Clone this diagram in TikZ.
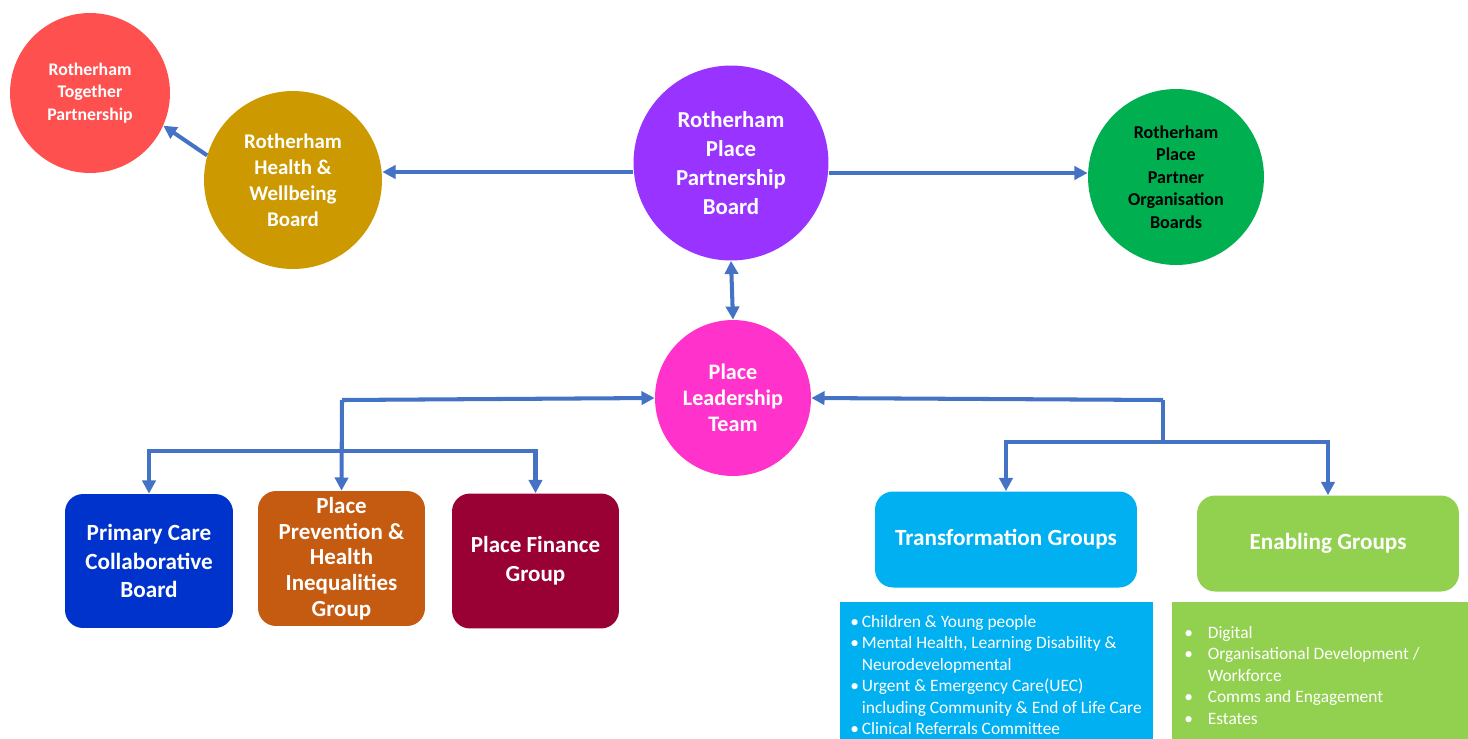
\documentclass[tikz,border=0pt]{standalone}
\usepackage{fontspec}
\setmainfont{Carlito}
\usetikzlibrary{arrows.meta}

\definecolor{linkblue}{HTML}{4472C4}
\definecolor{rtpred}{HTML}{FF5050}
\definecolor{hwbgold}{HTML}{CC9900}
\definecolor{boardpurple}{HTML}{9933FF}
\definecolor{partnergreen}{HTML}{00B050}
\definecolor{pltpink}{HTML}{FF33CC}
\definecolor{pcblue}{HTML}{0033CC}
\definecolor{prevorange}{HTML}{C55A11}
\definecolor{finred}{HTML}{990033}
\definecolor{tgcyan}{HTML}{00B0F0}
\definecolor{eglime}{HTML}{92D050}

\begin{document}
\begin{tikzpicture}
  [x=0.02cm,y=-0.02cm,>={Triangle[length=7.5pt,width=7.5pt]},
   every node/.style={text=white,align=center},
   hub/.style={circle,inner sep=0pt},
   group/.style={rectangle,rounded corners=0.36cm,inner sep=0pt},
   link/.style={draw=linkblue,line width=2.3pt},
   items/.style={anchor=north west,inner sep=0pt,align=left,
     font=\fontsize{9.9}{12.2}\selectfont}]
  \useasboundingbox (0,0) rectangle (1468,738);
  \clip (0,0) rectangle (1468,738);

  % top row of boards
  \node[hub,fill=rtpred,minimum size=3.2cm,
    font=\bfseries\fontsize{10.1}{12.8}\selectfont] (rtp) at (90,93)
    {Rotherham\\Together\\Partnership};
  \node[hub,fill=hwbgold,minimum size=3.56cm,
    font=\bfseries\fontsize{11.9}{14.8}\selectfont] (hwb) at (293,180)
    {Rotherham\\Health \&\\Wellbeing\\Board};
  \node[hub,fill=boardpurple,minimum size=3.9cm,
    font=\bfseries\fontsize{13}{16.4}\selectfont] (rppb) at (731,163)
    {Rotherham\\Place\\Partnership\\Board};
  \node[hub,fill=partnergreen,minimum size=3.52cm,text=black,
    font=\bfseries\fontsize{10.3}{12.8}\selectfont] (prb) at (1176,177)
    {Rotherham\\Place\\Partner\\Organisation\\Boards};
  \node[hub,fill=pltpink,minimum size=3.12cm,
    font=\bfseries\fontsize{12.6}{14.8}\selectfont] (plt) at (733,398)
    {Place\\Leadership\\Team};

  % groups
  \node[group,fill=pcblue,minimum width=3.36cm,minimum height=2.68cm,
    font=\bfseries\fontsize{13.2}{16.2}\selectfont] (pcb) at (149,561)
    {Primary Care\\Collaborative\\Board};
  \node[group,fill=prevorange,minimum width=3.34cm,minimum height=2.7cm,
    font=\bfseries\fontsize{13.1}{14.6}\selectfont] (prev) at (341.5,558.5)
    {Place\\Prevention \&\\Health\\Inequalities\\Group};
  \node[group,fill=finred,minimum width=3.34cm,minimum height=2.7cm,
    font=\bfseries\fontsize{13.1}{16.4}\selectfont] (fin) at (535.5,561)
    {Place Finance\\Group};
  \node[group,fill=tgcyan,minimum width=5.24cm,minimum height=1.92cm,
    font=\bfseries\fontsize{13.2}{15}\selectfont] (tg) at (1006,539.5)
    {Transformation Groups};
  \node[group,fill=eglime,minimum width=5.24cm,minimum height=1.92cm,
    font=\bfseries\fontsize{13.2}{15}\selectfont] (eg) at (1328,543.5)
    {Enabling Groups};

  % member lists
  \fill[tgcyan] (840,602) rectangle (1153,760);
  \fill[eglime] (1172,602) rectangle (1470,760);
  \node[items] (tgl) at (850,615)
    {\textbullet\,Children \& Young people\\
     \textbullet\,Mental Health, Learning Disability \&\\
     \hphantom{\textbullet\,}Neurodevelopmental\\
     \textbullet\,Urgent \& Emergency Care(UEC)\\
     \hphantom{\textbullet\,}including Community \& End of Life Care\\
     \textbullet\,Clinical Referrals Committee};
  \node[items] (egl) at (1184,626)
    {\textbullet\hspace{0.85em}Digital\\
     \textbullet\hspace{0.85em}Organisational Development /\\
     \hphantom{\textbullet\hspace{0.85em}}Workforce\\
     \textbullet\hspace{0.85em}Comms and Engagement\\
     \textbullet\hspace{0.85em}Estates};

  % connectors
  \coordinate (lj) at (342,400);
  \coordinate (lb) at (342,451);
  \coordinate (rj) at (1163,400);
  \coordinate (rb) at (1163,442);
  \draw[link,->] (hwb.164) -- (rtp.-24);
  \draw[link,->] (rppb.west |- 0,172) -- (hwb.east |- 0,172);
  \draw[link,->] (rppb.east |- 0,173) -- (prb.west |- 0,173);
  \draw[link,<->] (rppb.south) -- (plt.north);
  \draw[link,->] (lj) -- (plt.west);
  \draw[link,->] (lj) -- (prev.north);
  \foreach \to in {pcb,fin}
    \draw[link,->] (lb) -| (\to.north);
  \draw[link,->] (rj) -- (plt.east);
  \draw[link] (rj) -- (rb);
  \foreach \to in {tg,eg}
    \draw[link,->] (rb) -| (\to.north);
\end{tikzpicture}
\end{document}
